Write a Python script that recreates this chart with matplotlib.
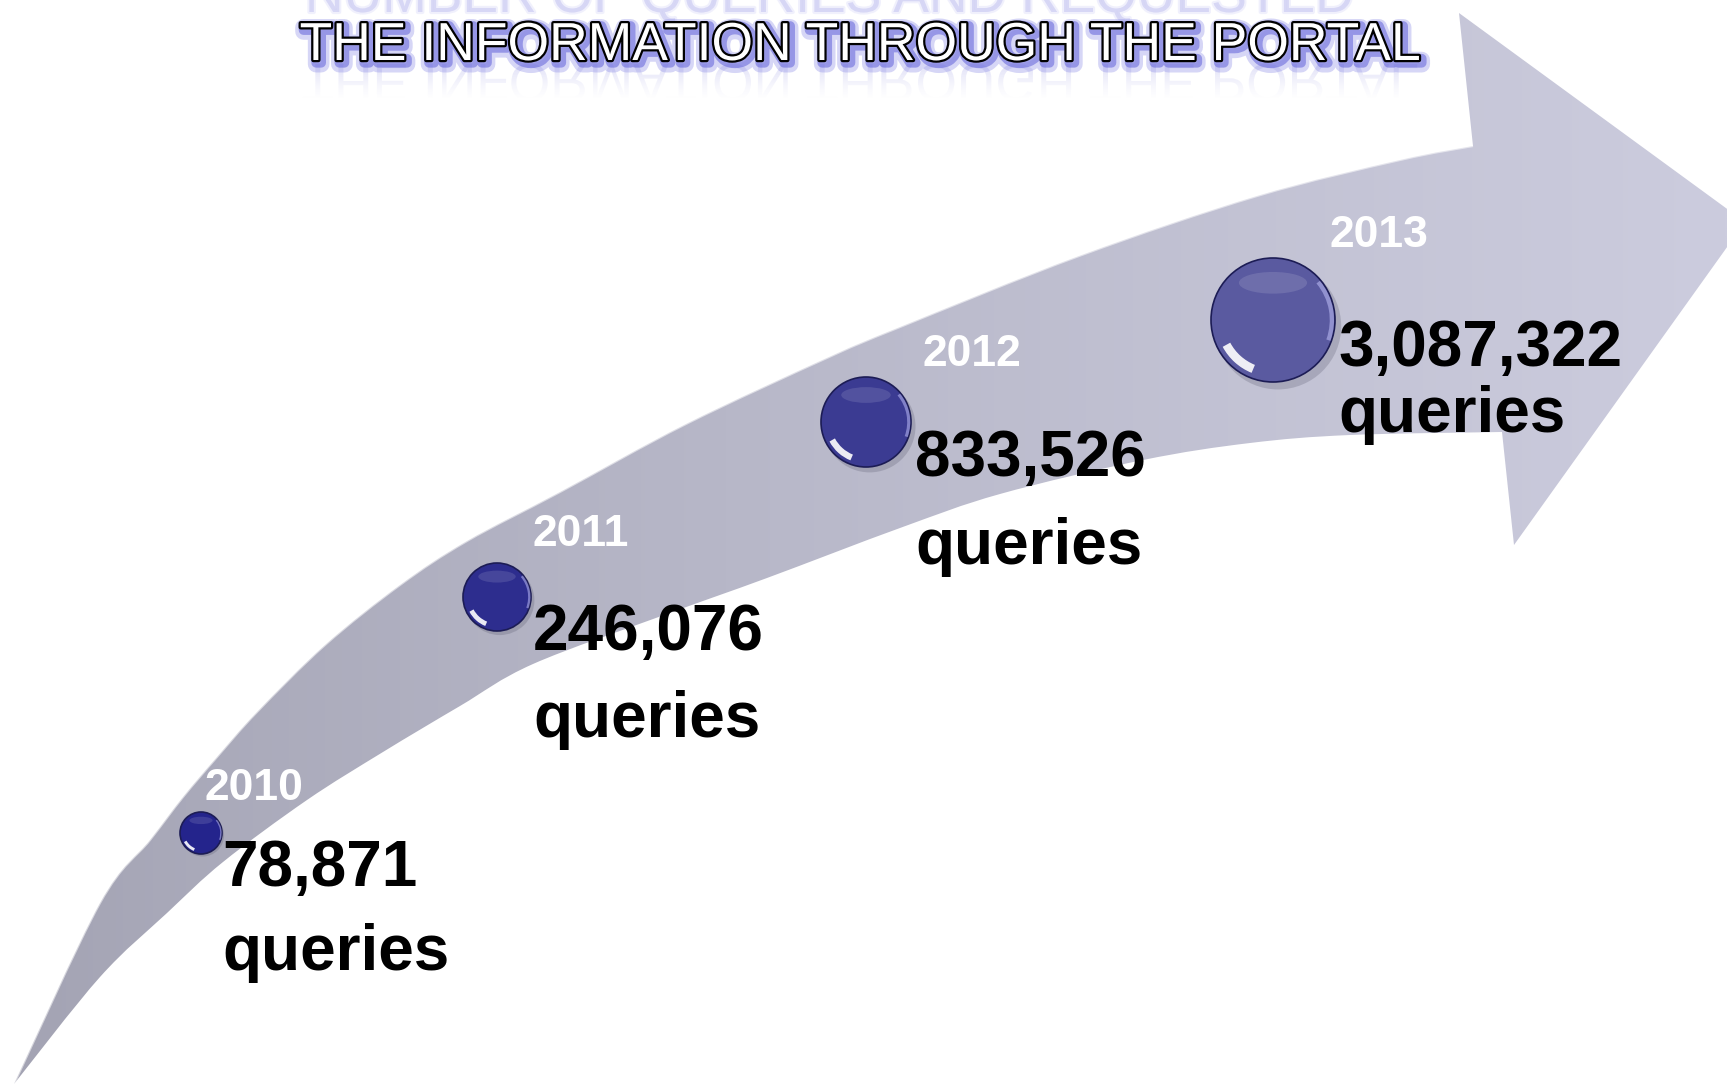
import numpy as np
import matplotlib
matplotlib.use("Agg")
import matplotlib.pyplot as plt
from matplotlib.patches import Circle, Ellipse, Arc, PathPatch
from matplotlib.path import Path
from matplotlib.textpath import TextPath
from matplotlib.font_manager import FontProperties
import matplotlib.patheffects as pe
from matplotlib.transforms import Affine2D

# ---------------- data ----------------
years = ["2010", "2011", "2012", "2013"]
queries = [78871, 246076, 833526, 3087322]
unit_label = "queries"
title = "THE INFORMATION THROUGH THE PORTAL"
ghost_title = "NUMBER OF QUERIES AND REQUESTED"

# ---------------- layout (pixels, y down) ----------------
W, H = 1727, 1084
circle_xy = [(201, 833), (497, 597), (866, 422), (1273, 320)]
circle_r = [21, 34, 45, 62]
circle_col = ["#24248c", "#2d2d8e", "#3b3b92", "#5a5aa0"]
year_xy = [(205, 800), (533, 546), (923, 366), (1330, 247)]
value_xy = [(222, 886), (533, 650), (915, 476), (1338, 366)]
unit_dy = [84, 87, 88, 66]

upper_edge = [(14, 1084), (100, 903), (150, 840), (183, 797), (217, 757),
              (257, 712), (325, 645), (400, 585), (467, 541), (560, 492),
              (686, 424), (829, 357), (900, 327), (1079, 256), (1257, 196),
              (1400, 160), (1473, 146)]
head = [(1459, 13), (1745, 222), (1514, 545), (1502, 432)]
lower_edge = [(14, 1084), (100, 977), (167, 913), (223, 862), (307, 800),
              (383, 752), (460, 706), (533, 664), (667, 614), (767, 578),
              (900, 528), (1000, 494), (1143, 460), (1250, 443), (1350, 435),
              (1502, 432)]

FONT = "Liberation Sans"


def smooth_segments(pts):
    """Cubic Bezier (Catmull-Rom) vertices/codes following pts, without MOVETO."""
    p = np.asarray(pts, float)
    ext = np.vstack([p[0], p, p[-1]])
    verts, codes = [], []
    for i in range(1, len(ext) - 2):
        a, b, c, d = ext[i - 1], ext[i], ext[i + 1], ext[i + 2]
        c1 = b + (c - a) / 6.0
        c2 = c - (d - b) / 6.0
        verts += [tuple(c1), tuple(c2), tuple(c)]
        codes += [Path.CURVE4] * 3
    return verts, codes


fig = plt.figure(figsize=(W / 100, H / 100), dpi=100)
ax = fig.add_axes([0, 0, 1, 1])
ax.set_xlim(0, W)
ax.set_ylim(H, 0)
ax.axis("off")

# ---------------- arrow ----------------
verts = [upper_edge[0]]
codes = [Path.MOVETO]
v, c = smooth_segments(upper_edge)
verts += v; codes += c
for hp in head:
    verts.append(hp); codes.append(Path.LINETO)
v, c = smooth_segments(lower_edge[::-1])
verts += v; codes += c
verts.append(upper_edge[0]); codes.append(Path.CLOSEPOLY)
arrow_path = Path(verts, codes)
arrow_patch = PathPatch(arrow_path, facecolor="none", edgecolor="none", zorder=1)
ax.add_patch(arrow_patch)

nx, ny = 400, 100
gx = np.linspace(0, 1, nx)[None, :]
gy = np.linspace(0, 1, ny)[:, None]
c0 = np.array([162, 162, 178]) / 255.0
c1 = np.array([204, 204, 222]) / 255.0
t = np.clip(gx ** 0.8 + 0.0 * gy, 0, 1)
grad = c0[None, None, :] + (c1 - c0)[None, None, :] * t[..., None]
im = ax.imshow(grad, extent=(0, W, H, 0), origin="upper", zorder=1,
               interpolation="bilinear", aspect="auto")
im.set_clip_path(arrow_patch)

uv, uc = smooth_segments(upper_edge)
edge_path = Path([upper_edge[0]] + uv, [Path.MOVETO] + uc)
ax.add_patch(PathPatch(edge_path, facecolor="none", edgecolor="white",
                       lw=1.6, alpha=0.55, zorder=2))

ax.set_xlim(0, W)
ax.set_ylim(H, 0)

# ---------------- spheres ----------------
for (cx, cy), r, col in zip(circle_xy, circle_r, circle_col):
    ax.add_patch(Circle((cx + 0.08 * r, cy + 0.1 * r), r * 1.02,
                        facecolor="#55556a", alpha=0.25, edgecolor="none", zorder=3))
    ax.add_patch(Circle((cx, cy), r, facecolor=col, edgecolor="#1c1c55",
                        lw=1.2, zorder=4))
    ax.add_patch(Ellipse((cx, cy - 0.6 * r), 1.1 * r, 0.35 * r,
                         facecolor="white", alpha=0.12, edgecolor="none", zorder=5))
    ax.add_patch(Arc((cx, cy), 1.7 * r, 1.7 * r, theta1=112, theta2=152,
                     color="white", lw=max(1.5, r * 0.1), alpha=0.9, zorder=5))
    ax.add_patch(Arc((cx, cy), 1.9 * r, 1.9 * r, theta1=-40, theta2=20,
                     color="#c8c8ff", lw=max(1.0, r * 0.05), alpha=0.5, zorder=5))

# ---------------- labels ----------------
for yr, val, (yx, yy), (vx, vy), dy in zip(years, queries, year_xy, value_xy, unit_dy):
    ax.text(yx, yy, yr, fontsize=32, fontweight="bold", color="white",
            family=FONT, ha="left", va="baseline", zorder=6)
    ax.text(vx, vy, f"{val:,}", fontsize=46, fontweight="bold", color="black",
            family=FONT, ha="left", va="baseline", zorder=6)
    ax.text(vx, vy + dy, unit_label, fontsize=46, fontweight="bold", color="black",
            family=FONT, ha="left", va="baseline", zorder=6)

# ---------------- title ----------------
# faded line above (mostly outside the frame, as in the original slide)
ax.text(829, 12, ghost_title, fontsize=38.5, color="#d2d2f4", family=FONT,
        ha="center", va="baseline", zorder=6, alpha=0.75,
        path_effects=[pe.withStroke(linewidth=3, foreground="#ececfc")])

# reflection below title (y axis is inverted, so a TextPath appears mirrored)
fp = FontProperties(family=FONT)
tp = TextPath((0, 0), title, size=53.3, prop=fp)
ext = tp.get_extents()
tr = Affine2D().translate(860 - ext.width / 2 - ext.x0, 64)
refl_patch = PathPatch(tr.transform_path(tp), facecolor="none", edgecolor="none")
ax.add_patch(refl_patch)
ry0, ry1 = 60, 100
fade = np.linspace(0.45, 0.0, 60) ** 1.3
refl = np.zeros((60, 2, 4))
refl[..., 0] = 0.62
refl[..., 1] = 0.62
refl[..., 2] = 0.90
refl[..., 3] = fade[:, None]
rim = ax.imshow(refl, extent=(250, 1480, ry1, ry0), origin="upper", zorder=5,
                interpolation="bilinear", aspect="auto")
rim.set_clip_path(refl_patch)
ax.set_xlim(0, W)
ax.set_ylim(H, 0)

ax.text(860, 60, title, fontsize=38.5, color="white", family=FONT,
        ha="center", va="baseline", zorder=7,
        path_effects=[pe.Stroke(linewidth=12, foreground="#8a8ae6", alpha=0.35,
                                offset=(2, -3)),
                      pe.Stroke(linewidth=7, foreground="#6c6cdc", alpha=0.6,
                                offset=(2, -2)),
                      pe.Stroke(linewidth=3.2, foreground="black"),
                      pe.Normal()])

fig.savefig("out.png", dpi=100, facecolor="white")
